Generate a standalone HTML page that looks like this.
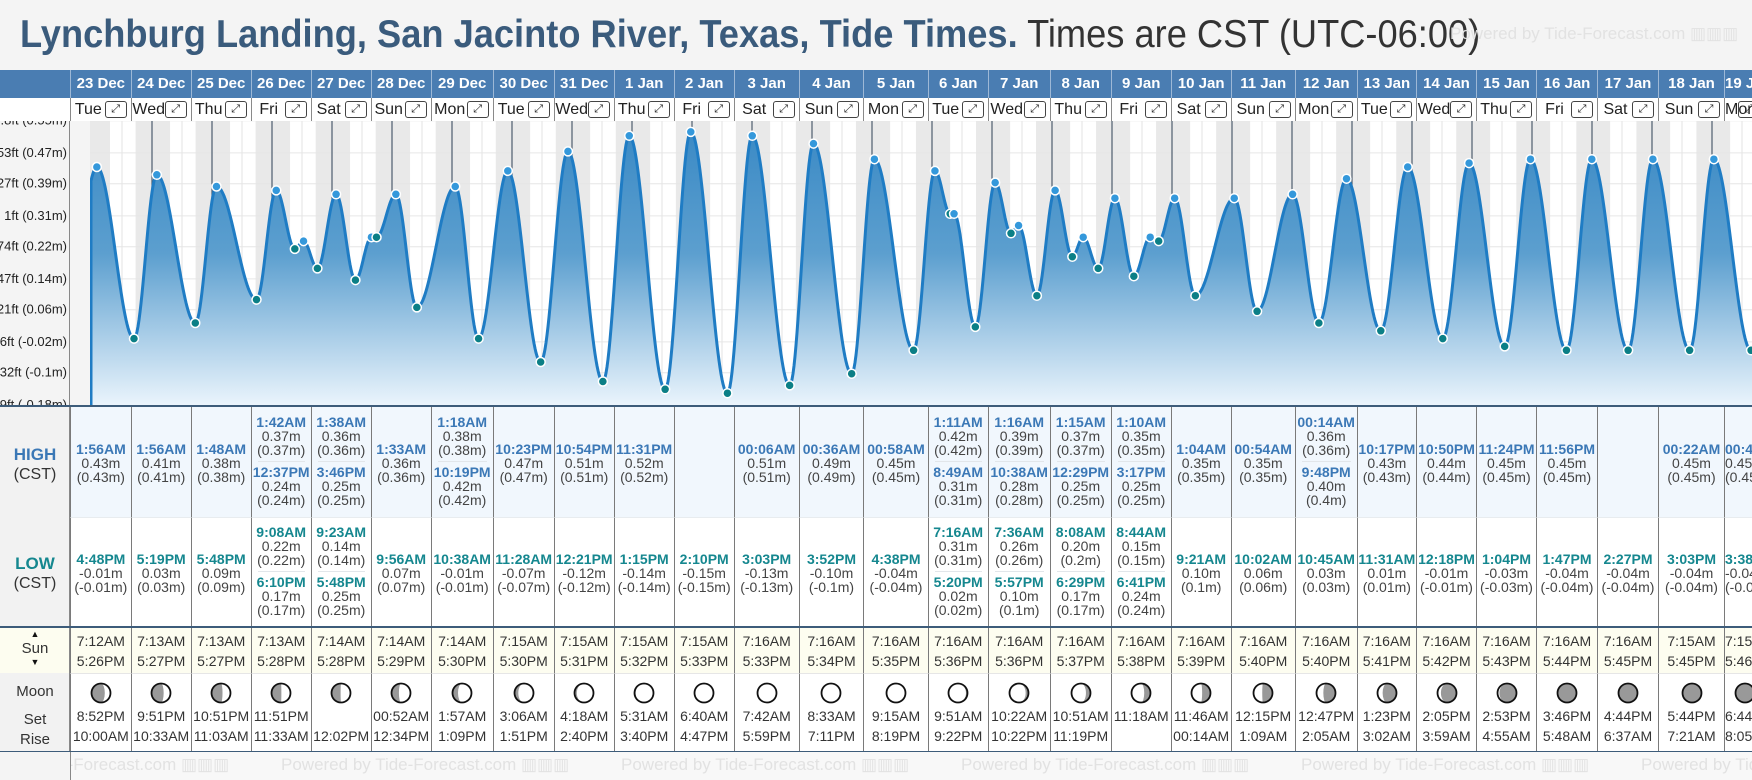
<!DOCTYPE html>
<html><head><meta charset="utf-8">
<style>
*{margin:0;padding:0;box-sizing:border-box}
body{width:1752px;height:780px;overflow:hidden;background:#f4f4f4;font-family:"Liberation Sans",sans-serif;position:relative}
.abs{position:absolute}
#title{position:absolute;left:20px;top:11px;white-space:nowrap;font-size:39px;line-height:48px;transform-origin:0 0}
#title b{color:#3a5b7c;font-weight:bold}
#title span{color:#333}
.wm{position:absolute;color:#e2e2e2;font-size:17px;white-space:nowrap}
.col{position:absolute;border-left:1px solid #7a7a7a;overflow:hidden;text-align:center}
.dcell{position:absolute;top:70px;height:28px;background:#4a7db2;border-left:1px solid #9db8d6;color:#fff;font-weight:bold;font-size:15px;line-height:28px;text-align:center;overflow:hidden;white-space:nowrap}
.dow{position:absolute;top:98px;height:23px;background:#fff;border-left:1px solid #8a8a8a;font-size:16px;line-height:23px;color:#222;overflow:hidden;white-space:nowrap}
.exp{position:absolute;top:3px;width:22px;height:17px;border:1px solid #444;border-radius:3px;font-size:11px;line-height:15px;text-align:center;color:#222}
.ent{position:absolute;left:0;right:0;font-size:14px;line-height:14px;color:#444;white-space:nowrap}
.ent .t{font-weight:bold}
.hi .t{color:#3b78b6}
.lo .t{color:#15878f}
.sep{position:absolute;left:6px;right:6px;height:1px;background:#e2e6ea}
.lbl{position:absolute;left:0;width:70px;text-align:center;color:#333}
</style></head>
<body>
<div id="title"><b>Lynchburg Landing, San Jacinto River, Texas, Tide Times.</b><span> Times are CST (UTC-06:00)</span></div>
<div class="wm" style="left:1450px;top:24px">Powered by Tide-Forecast.com ▥▥▥</div>

<div class="abs" style="left:0;top:70px;width:70px;height:28px;background:#4a7db2"></div>
<div class="abs" style="left:0;top:98px;width:70px;height:23px;background:#fff"></div>

<svg id="chart" class="abs" style="left:0;top:0" width="1752" height="410"></svg>

<div id="table"></div>

<div class="abs" style="left:0;top:407px;width:70px;height:219px;background:#f2f2f2;border-right:1px solid #888"></div>
<div class="lbl" style="top:445px;font-size:17px;font-weight:bold;color:#3b78b6">HIGH</div>
<div class="lbl" style="top:466px;font-size:16px">(CST)</div>
<div class="lbl" style="top:554px;font-size:17px;font-weight:bold;color:#15878f">LOW</div>
<div class="lbl" style="top:575px;font-size:16px">(CST)</div>
<div class="abs" style="left:0;top:627px;width:70px;height:46px;background:#fdfdf0;border-right:1px solid #888"></div>
<div class="lbl" style="top:629px;font-size:9px;line-height:10px;color:#111">▲</div>
<div class="lbl" style="top:641px;font-size:15px;line-height:16px">Sun</div>
<div class="lbl" style="top:657px;font-size:9px;line-height:10px;color:#111">▼</div>
<div class="abs" style="left:0;top:673px;width:70px;height:79px;background:#f2f2f2;border-right:1px solid #888"></div>
<div class="lbl" style="top:683px;font-size:15px">Moon</div>
<div class="lbl" style="top:711px;font-size:15px">Set</div>
<div class="lbl" style="top:731px;font-size:15px">Rise</div>
<div class="abs" style="left:0;top:626px;width:1752px;height:2px;background:#3d5c7a"></div>
<div class="abs" style="left:0;top:405px;width:1752px;height:2px;background:#3d5c7a"></div>
<div class="abs" style="left:0;top:751px;width:1752px;height:1px;background:#3d5c7a"></div>
<div id="footer" class="abs" style="left:70px;top:752px;width:1682px;height:28px;background:#f8f8f8;border-left:1px solid #888;overflow:hidden"></div>
<div class="abs" style="left:1717px;top:410px;width:30px;height:30px;border-radius:50%;background:#777;color:#fff;font-size:24px;line-height:28px;text-align:center;font-weight:bold">›</div>

<script>
// ---- data ----
const dates=["23 Dec","24 Dec","25 Dec","26 Dec","27 Dec","28 Dec","29 Dec","30 Dec","31 Dec","1 Jan","2 Jan","3 Jan","4 Jan","5 Jan","6 Jan","7 Jan","8 Jan","9 Jan","10 Jan","11 Jan","12 Jan","13 Jan","14 Jan","15 Jan","16 Jan","17 Jan","18 Jan","19 Jan"];
const dows=["Tue","Wed","Thu","Fri","Sat","Sun","Mon","Tue","Wed","Thu","Fri","Sat","Sun","Mon","Tue","Wed","Thu","Fri","Sat","Sun","Mon","Tue","Wed","Thu","Fri","Sat","Sun","Mon"];
// chart extremes
const tideDay=[-1,0,0,1,1,2,2,3,3,3,3,4,4,4,4,5,5,6,6,6,7,7,8,8,9,9,10,11,11,12,12,13,13,14,14,14,14,15,15,15,15,16,16,16,16,17,17,17,17,18,18,19,19,20,20,20,21,21,22,22,23,23,24,24,25,26,26,27,27,28];
const tideTime=["18:00","1:56","16:48","1:56","17:19","1:48","17:48","1:42","9:08","12:37","18:10","1:38","9:23","15:46","17:48","1:33","9:56","1:18","10:38","22:19","11:28","22:23","12:21","22:54","13:15","23:31","14:10","0:06","15:03","0:36","15:52","0:58","16:38","1:11","7:16","8:49","17:20","1:16","7:36","10:38","17:57","1:15","8:08","12:29","18:29","1:10","8:44","15:17","18:41","1:04","9:21","0:54","10:02","0:14","10:45","21:48","11:31","22:17","12:18","22:50","13:04","23:24","13:47","23:56","14:27","0:22","15:03","0:45","15:38","1:00"];
const tideLevel=[0.25,0.43,-0.01,0.41,0.03,0.38,0.09,0.37,0.22,0.24,0.17,0.36,0.14,0.25,0.25,0.36,0.07,0.38,-0.01,0.42,-0.07,0.47,-0.12,0.51,-0.14,0.52,-0.15,0.51,-0.13,0.49,-0.10,0.45,-0.04,0.42,0.31,0.31,0.02,0.39,0.26,0.28,0.10,0.37,0.20,0.25,0.17,0.35,0.15,0.25,0.24,0.35,0.10,0.35,0.06,0.36,0.03,0.40,0.01,0.43,-0.01,0.44,-0.03,0.45,-0.04,0.45,-0.04,0.45,-0.04,0.45,-0.04,0.45];
const tideType=["L","H","L","H","L","H","L","H","L","H","L","H","L","H","L","H","L","H","L","H","L","H","L","H","L","H","L","H","L","H","L","H","L","H","L","H","L","H","L","H","L","H","L","H","L","H","L","H","L","H","L","H","L","H","L","H","L","H","L","H","L","H","L","H","L","H","L","H","L","H"];
const yTicksFt=["1.8ft","1.53ft","1.27ft","1ft","0.74ft","0.47ft","0.21ft","-0.06ft","-0.32ft","-0.59ft"];
const yTicksM=["0.55m","0.47m","0.39m","0.31m","0.22m","0.14m","0.06m","-0.02m","-0.1m","-0.18m"];
const yTickVals=[0.5486,0.4663,0.3871,0.3048,0.2256,0.1433,0.0640,-0.0183,-0.0975,-0.1798];
// table
const highs=[
[["1:56AM","0.43m","(0.43m)"]],[["1:56AM","0.41m","(0.41m)"]],[["1:48AM","0.38m","(0.38m)"]],
[["1:42AM","0.37m","(0.37m)"],["12:37PM","0.24m","(0.24m)"]],[["1:38AM","0.36m","(0.36m)"],["3:46PM","0.25m","(0.25m)"]],
[["1:33AM","0.36m","(0.36m)"]],[["1:18AM","0.38m","(0.38m)"],["10:19PM","0.42m","(0.42m)"]],
[["10:23PM","0.47m","(0.47m)"]],[["10:54PM","0.51m","(0.51m)"]],[["11:31PM","0.52m","(0.52m)"]],[],
[["00:06AM","0.51m","(0.51m)"]],[["00:36AM","0.49m","(0.49m)"]],[["00:58AM","0.45m","(0.45m)"]],
[["1:11AM","0.42m","(0.42m)"],["8:49AM","0.31m","(0.31m)"]],[["1:16AM","0.39m","(0.39m)"],["10:38AM","0.28m","(0.28m)"]],
[["1:15AM","0.37m","(0.37m)"],["12:29PM","0.25m","(0.25m)"]],[["1:10AM","0.35m","(0.35m)"],["3:17PM","0.25m","(0.25m)"]],
[["1:04AM","0.35m","(0.35m)"]],[["00:54AM","0.35m","(0.35m)"]],[["00:14AM","0.36m","(0.36m)"],["9:48PM","0.40m","(0.4m)"]],
[["10:17PM","0.43m","(0.43m)"]],[["10:50PM","0.44m","(0.44m)"]],[["11:24PM","0.45m","(0.45m)"]],[["11:56PM","0.45m","(0.45m)"]],[],
[["00:22AM","0.45m","(0.45m)"]],[["00:45AM","0.45m","(0.45m)"]]];
const lows=[
[["4:48PM","-0.01m","(-0.01m)"]],[["5:19PM","0.03m","(0.03m)"]],[["5:48PM","0.09m","(0.09m)"]],
[["9:08AM","0.22m","(0.22m)"],["6:10PM","0.17m","(0.17m)"]],[["9:23AM","0.14m","(0.14m)"],["5:48PM","0.25m","(0.25m)"]],
[["9:56AM","0.07m","(0.07m)"]],[["10:38AM","-0.01m","(-0.01m)"]],[["11:28AM","-0.07m","(-0.07m)"]],[["12:21PM","-0.12m","(-0.12m)"]],
[["1:15PM","-0.14m","(-0.14m)"]],[["2:10PM","-0.15m","(-0.15m)"]],[["3:03PM","-0.13m","(-0.13m)"]],[["3:52PM","-0.10m","(-0.1m)"]],
[["4:38PM","-0.04m","(-0.04m)"]],[["7:16AM","0.31m","(0.31m)"],["5:20PM","0.02m","(0.02m)"]],[["7:36AM","0.26m","(0.26m)"],["5:57PM","0.10m","(0.1m)"]],
[["8:08AM","0.20m","(0.2m)"],["6:29PM","0.17m","(0.17m)"]],[["8:44AM","0.15m","(0.15m)"],["6:41PM","0.24m","(0.24m)"]],
[["9:21AM","0.10m","(0.1m)"]],[["10:02AM","0.06m","(0.06m)"]],[["10:45AM","0.03m","(0.03m)"]],[["11:31AM","0.01m","(0.01m)"]],
[["12:18PM","-0.01m","(-0.01m)"]],[["1:04PM","-0.03m","(-0.03m)"]],[["1:47PM","-0.04m","(-0.04m)"]],[["2:27PM","-0.04m","(-0.04m)"]],
[["3:03PM","-0.04m","(-0.04m)"]],[["3:38PM","-0.04m","(-0.04m)"]]];
const sunrise=["7:12AM","7:13AM","7:13AM","7:13AM","7:14AM","7:14AM","7:14AM","7:15AM","7:15AM","7:15AM","7:15AM","7:16AM","7:16AM","7:16AM","7:16AM","7:16AM","7:16AM","7:16AM","7:16AM","7:16AM","7:16AM","7:16AM","7:16AM","7:16AM","7:16AM","7:16AM","7:15AM","7:15AM"];
const sunset=["5:26PM","5:27PM","5:27PM","5:28PM","5:28PM","5:29PM","5:30PM","5:30PM","5:31PM","5:32PM","5:33PM","5:33PM","5:34PM","5:35PM","5:36PM","5:36PM","5:37PM","5:38PM","5:39PM","5:40PM","5:40PM","5:41PM","5:42PM","5:43PM","5:44PM","5:45PM","5:45PM","5:46PM"];
const moonSet=["8:52PM","9:51PM","10:51PM","11:51PM","","00:52AM","1:57AM","3:06AM","4:18AM","5:31AM","6:40AM","7:42AM","8:33AM","9:15AM","9:51AM","10:22AM","10:51AM","11:18AM","11:46AM","12:15PM","12:47PM","1:23PM","2:05PM","2:53PM","3:46PM","4:44PM","5:44PM","6:44PM"];
const moonRise=["10:00AM","10:33AM","11:03AM","11:33AM","12:02PM","12:34PM","1:09PM","1:51PM","2:40PM","3:40PM","4:47PM","5:59PM","7:11PM","8:19PM","9:22PM","10:22PM","11:19PM","","00:14AM","1:09AM","2:05AM","3:02AM","3:59AM","4:55AM","5:48AM","6:37AM","7:21AM","8:05AM"];
// signed illumination: + waxing (lit right), - waning (lit left)
const moonLit=[0.30,0.36,0.42,0.48,0.52,0.61,0.71,0.80,0.88,0.94,0.98,1.0,-0.99,-0.97,-0.92,-0.85,-0.76,-0.67,-0.56,-0.46,-0.36,-0.27,-0.18,-0.10,-0.04,-0.01,0,0.01];
// ---- layout (not data) ----
const colW=[60.7,60,60,60,60,60,62,61,60,60,60,65,64.6,64.4,60,62,61,60,60,64,62,59.3,60,60,61,61,66,40];
const colL=[];{let x=70;for(const w of colW){colL.push(x);x+=w;}}

function tm(s){const [h,m]=s.split(':').map(Number);return h+m/60;}
function ampm(s){let h=parseInt(s),m=parseInt(s.split(':')[1]);const pm=s.includes('PM');if(pm&&h!==12)h+=12;if(!pm&&h===12)h=0;return h+m/60;}
const X=t=>92+60*t;            // t in days
const Y=v=>167+(0.43-v)*390;   // v in metres
const NS="http://www.w3.org/2000/svg";
const svg=document.getElementById('chart');
function el(tag,attrs,parent){const e=document.createElementNS(NS,tag);for(const k in attrs)e.setAttribute(k,attrs[k]);(parent||svg).appendChild(e);return e;}

// title fit
(function(){const t=document.getElementById('title');const w=t.scrollWidth;t.style.transform='scaleX('+(1460/w)+')';})();

// defs
const defs=el('defs',{});
const g=el('linearGradient',{id:'fillg',x1:0,y1:130,x2:0,y2:405,gradientUnits:'userSpaceOnUse'},defs);
el('stop',{offset:'0','stop-color':'#3b8ac5'},g);
el('stop',{offset:'0.45','stop-color':'#5c9fcf'},g);
el('stop',{offset:'1','stop-color':'#eaf4fc'},g);
const cp=el('clipPath',{id:'plotclip'},defs);
el('rect',{x:90,y:121,width:1662,height:284},cp);

const plot=el('g',{'clip-path':'url(#plotclip)'});


el('rect',{x:90,y:121,width:1662,height:284,fill:'#e9e9e9'},plot);
// day/night bands
for(let d=0;d<dates.length;d++){
  const r=el('rect',{x:X(d+ampm(sunrise[d])/24),y:121,width:X(d+ampm(sunset[d])/24)-X(d+ampm(sunrise[d])/24),height:284,fill:'#ffffff'},plot);
  
  
  el('line',{x1:X(d+0.5),x2:X(d+0.5),y1:121,y2:405,stroke:'#e3e3e3','stroke-width':1},plot);
}
// horizontal grid
yTickVals.forEach(v=>{el('line',{x1:90,x2:1752,y1:Y(v),y2:Y(v),stroke:'#e6e6e6','stroke-width':1},plot);});
for(let d=1;d<dates.length;d++){el('line',{x1:X(d),x2:X(d),y1:121,y2:405,stroke:'#c9ccd0','stroke-width':1},plot);}

// curve
const T=tideDay.map((d,i)=>d+tm(tideTime[i])/24);
function level(t){
  for(let i=0;i<T.length-1;i++){ if(t>=T[i]&&t<=T[i+1]){const f=(t-T[i])/(T[i+1]-T[i]);return tideLevel[i]+(tideLevel[i+1]-tideLevel[i])*(1-Math.cos(Math.PI*f))/2;} }
  return tideLevel[tideLevel.length-1];
}
let pts=[];
for(let x=90;x<=1752;x+=1){pts.push([x,Y(level((x-92)/60))]);}
let dl='M'+pts.map(p=>p[0]+','+p[1].toFixed(1)).join('L');
const area=el('path',{d:dl+'L1752,405L90,405Z',fill:'url(#fillg)'},plot);


// midnight lines above curve
for(let d=1;d<dates.length;d++){el('line',{x1:X(d),x2:X(d),y1:121,y2:Y(level(d)),stroke:'#4d5d6e','stroke-width':1.2},plot);}
const line=el('path',{d:dl,fill:'none',stroke:'#1f7cc4','stroke-width':3},plot);


el('line',{x1:91,x2:91,y1:Y(level(-0.02)),y2:405,stroke:'#1f7cc4','stroke-width':3},plot);
T.forEach((t,i)=>{
  const c=el('circle',{cx:X(t),cy:Y(tideLevel[i]),r:4.5,fill:tideType[i]==='H'?'#3498db':'#0b7f86',stroke:'#fff','stroke-width':1.5},plot);
  
  
});
// y axis
el('rect',{x:0,y:121,width:70,height:284,fill:'#f4f4f4'});
el('line',{x1:69.5,x2:69.5,y1:121,y2:405,stroke:'#888'});
const yclip=el('clipPath',{id:'yclip'},defs);el('rect',{x:0,y:121,width:70,height:284},yclip);
const yg=el('g',{'clip-path':'url(#yclip)'});
yTickVals.forEach((v,i)=>{
  const tx=el('text',{x:67,y:Y(v)+4,'text-anchor':'end','font-size':13,fill:'#222','font-family':'Liberation Sans, sans-serif'},yg);
  tx.textContent=yTicksFt[i]+' ('+yTicksM[i]+')';
  
  
});

// header cells + table
const tbl=document.getElementById('table');
function div(cls,style,parent,txt){const e=document.createElement('div');if(cls)e.className=cls;e.style.cssText=style;if(txt!==undefined)e.textContent=txt;(parent||document.body).appendChild(e);return e;}
function entries(cell,list,cls,center){
  const n=list.length;
  list.forEach((en,k)=>{
    const top=n===1?center-21:(center-48+k*50);
    const e=div('ent '+cls,'top:'+top+'px',cell);
    
    
    e.innerHTML='<div class="t">'+en[0]+'</div><div>'+en[1]+'</div><div>'+en[2]+'</div>';
    if(n>1&&k===0){div('sep','top:'+(top+46)+'px',cell);}
  });
}
dates.forEach((d,i)=>{
  const L=colL[i],W=colW[i];
  const dc=div('dcell','left:'+L+'px;width:'+W+'px',document.body,d);
  
  
  const dw=div('dow','left:'+L+'px;width:'+W+'px');
  
  
  div('','position:absolute;left:0;width:'+(W-26)+'px;text-align:center',dw,dows[i]);
  const ex=div('exp','left:'+(W-27)+'px',dw,'⤢');
  
  
  // high
  const hc=div('col','left:'+L+'px;width:'+W+'px;top:407px;height:110px;background:#f1f7fd');
  
  
  entries(hc,highs[i],'hi',56);
  const lc=div('col','left:'+L+'px;width:'+W+'px;top:517px;height:109px;background:#fff;border-top:1px solid #e8ecef');
  
  
  entries(lc,lows[i],'lo',55);
  const sc=div('col','left:'+L+'px;width:'+W+'px;top:628px;height:45px;background:#fdfdf0;font-size:14px;line-height:20px;color:#333;padding-top:3px');
  
  
  sc.innerHTML='<div>'+sunrise[i]+'</div><div>'+sunset[i]+'</div>';
  const mc=div('col','left:'+L+'px;width:'+W+'px;top:673px;height:78px;background:#fff;font-size:14px;line-height:20px;color:#333;border-top:1px solid #e6e6e6');
  
  
  const k=moonLit[i],r=9.5,a=Math.abs(k),side=k>=0?1:0;
  const rx=(r*Math.abs(1-2*a)).toFixed(2);
  const sweepE=(a>0.5)?(side?1:0):(side?0:1);
  const path=a<=0.005?'':'M12,2.5 A'+r+','+r+' 0 0 '+side+' 12,21.5 A'+rx+','+r+' 0 0 '+sweepE+' 12,2.5Z';
  mc.innerHTML='<svg width="24" height="24" style="display:block;margin:7px auto 1px"><circle cx="12" cy="12" r="9.5" fill="#999"/><path d="'+path+'" fill="#fff"/><circle cx="12" cy="12" r="9.5" fill="none" stroke="#111" stroke-width="1.8"/></svg><div>'+(moonSet[i]||'&nbsp;')+'</div><div>'+moonRise[i]+'</div>';
});
// footer watermarks
const ft=document.getElementById('footer');
for(let x=-130;x<1700;x+=340){const w=div('wm','left:'+x+'px;top:3px',ft,'Powered by Tide-Forecast.com ▥▥▥');
  
  }
</script>
</body></html>
